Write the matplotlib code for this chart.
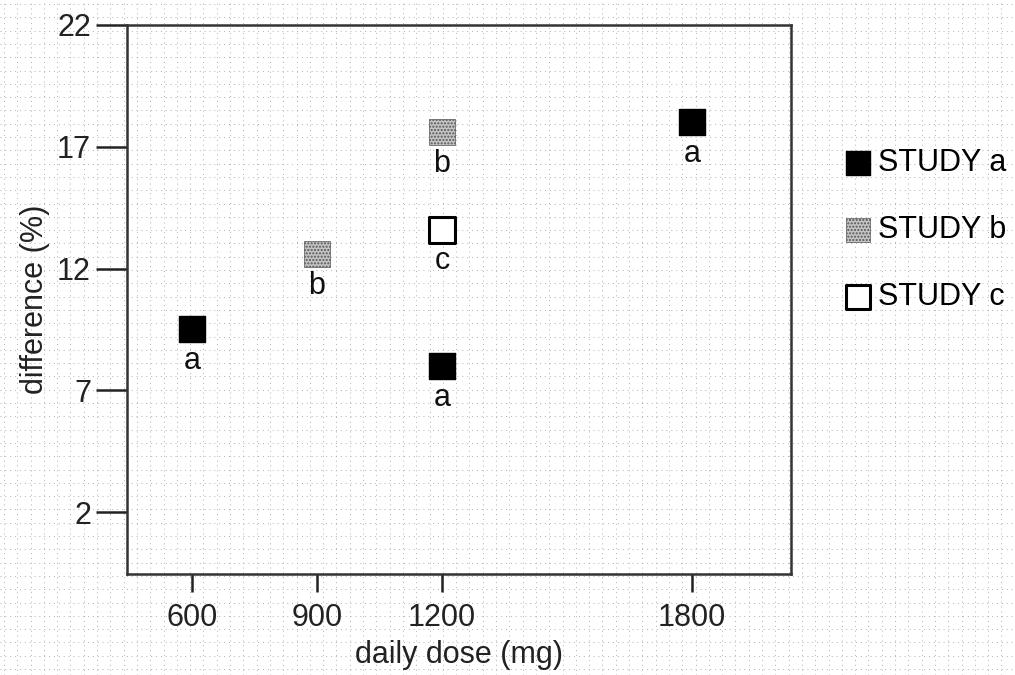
import numpy as np
from matplotlib import pyplot as plt

plt.rcParams['font.family'] = ['Liberation Sans', 'DejaVu Sans']

# study a, b, c: daily dose (mg) vs difference (%)
dose_a = [600, 1200, 1800]
diff_a = [9.5, 8.0, 18.0]
dose_b = [900, 1200]
diff_b = [12.6, 17.6]
dose_c = [1200]
diff_c = [13.6]

study_labels = ["STUDY a", "STUDY b", "STUDY c"]
point_tags = ["a", "b", "c"]
yticks = [2, 7, 12, 17, 22]
xticks = [600, 900, 1200, 1800]

fig = plt.figure(figsize=(10.15, 6.75), dpi=100)

# dotted paper background over the whole figure
bg = fig.add_axes([0, 0, 1, 1], zorder=-1)
bg.set_xlim(0, 1015); bg.set_ylim(0, 675)
for gx in np.arange(4, 1015, 13.3):
	bg.axvline(gx, color="#b0b0b0", lw=0.7, ls=(0, (1, 4)))
for gy in np.arange(6, 675, 13.3):
	bg.axhline(gy, color="#b0b0b0", lw=0.7, ls=(0, (1, 4)))
bg.axis("off")

ax = fig.add_axes([127/1015, 1-574/675, 664/1015, 549/675])
ax.patch.set_alpha(0)

msize = 360
ha = ax.scatter(dose_a, diff_a, s=msize, marker="s", color="black", label=study_labels[0], zorder=3)
hb = ax.scatter(dose_b, diff_b, s=msize, marker="s", facecolor="#c4c4c4", edgecolor="#555555",
	hatch=".....", linewidths=0.5, label=study_labels[1], zorder=3)
hc = ax.scatter(dose_c, diff_c, s=msize, marker="s", facecolor="white", edgecolor="black",
	linewidths=2.2, label=study_labels[2], zorder=3)

for xs, ys, tag in [(dose_a, diff_a, point_tags[0]), (dose_b, diff_b, point_tags[1]), (dose_c, diff_c, point_tags[2])]:
	for x, y in zip(xs, ys):
		ax.annotate(tag, (x, y), xytext=(0, -12), textcoords="offset points",
			ha="center", va="top", fontsize=22, color="#111111")

ax.set_xlim(444, 2038)
ax.set_ylim(-0.54, 22)
ax.set_xticks(xticks)
ax.set_yticks(yticks)
ax.tick_params(axis="y", length=22, width=1.8, labelsize=22, pad=4, colors="#222222")
ax.tick_params(axis="x", length=13, width=1.8, labelsize=22, pad=8, colors="#222222")
for sp in ax.spines.values():
	sp.set_linewidth(1.8); sp.set_color("#333333")

ax.set_xlabel("daily dose (mg)", fontsize=22, labelpad=5, color="#222222")
ax.set_ylabel("difference (%)", fontsize=22, labelpad=5, color="#222222")

fig.legend(handles=[ha, hb, hc], loc="upper left", bbox_to_anchor=(829/1015, 1-133/675),
	frameon=False, fontsize=22, markerscale=0.9, labelspacing=1.2, handletextpad=0.2,
	borderpad=0, handlelength=0.9)

plt.savefig("out.png", dpi=100)
